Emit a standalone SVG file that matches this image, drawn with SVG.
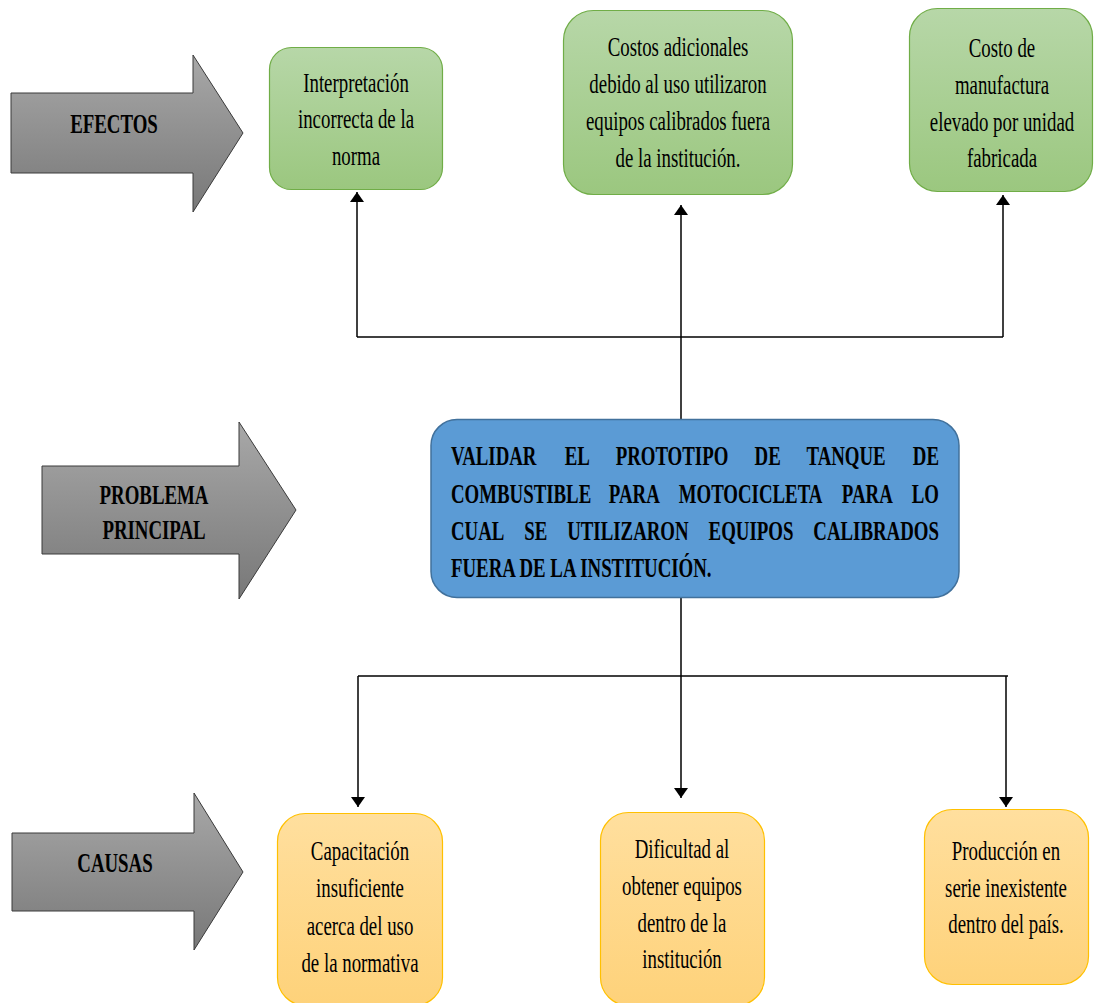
<svg xmlns="http://www.w3.org/2000/svg" width="1094" height="1003" viewBox="0 0 1094 1003">
<defs>
<linearGradient id="gGreen" x1="0" y1="0" x2="0" y2="1"><stop offset="0" stop-color="#b7d7a8"/><stop offset="1" stop-color="#9bc77f"/></linearGradient>
<linearGradient id="gOrange" x1="0" y1="0" x2="0" y2="1"><stop offset="0" stop-color="#ffdf9e"/><stop offset="1" stop-color="#fed27a"/></linearGradient>
<linearGradient id="gGray" x1="0" y1="0" x2="0" y2="1"><stop offset="0" stop-color="#a8a8a8"/><stop offset="1" stop-color="#787878"/></linearGradient>
<marker id="ah" viewBox="0 0 10 14" refX="10" refY="7" markerWidth="10" markerHeight="14" markerUnits="userSpaceOnUse" orient="auto"><path d="M0,0 L10,7 L0,14 Z" fill="#000"/></marker>
<style>
.arrowShape{fill:url(#gGray);stroke:#3a3a3a;stroke-width:1}
.green{fill:url(#gGreen);stroke:#70ad47;stroke-width:1.2}
.orange{fill:url(#gOrange);stroke:#ffc000;stroke-width:1.2}
.blue{fill:#5b9bd5;stroke:#41719c;stroke-width:1.5}
.t{font-family:"Liberation Serif","Times New Roman",serif;font-size:27px;fill:#000;text-anchor:middle}
.b{font-family:"Liberation Serif","Times New Roman",serif;font-size:27px;font-weight:bold;fill:#000}
.bc{text-anchor:middle}
.conn{fill:none;stroke:#000;stroke-width:1.5}
</style>
</defs>

<g id="label-efectos">
<polygon class="arrowShape" points="11,93 193,93 193,55 243,133 193,212 193,173 11,173"/>
<text class="b bc" transform="translate(114,0) scale(0.698,1)" x="0" y="133">EFECTOS</text>
</g>
<g id="label-problema">
<polygon class="arrowShape" points="42,466 239,466 239,422 296,510 239,599 239,554 42,554"/>
<text class="b bc" transform="translate(154,0) scale(0.698,1)"><tspan x="0" y="504">PROBLEMA</tspan><tspan x="0" y="539">PRINCIPAL</tspan></text>
</g>
<g id="label-causas">
<polygon class="arrowShape" points="12,833 194,833 194,793 243,872 194,950 194,911 12,911"/>
<text class="b bc" transform="translate(115,0) scale(0.698,1)" x="0" y="872">CAUSAS</text>
</g>

<g id="connectors">
<path class="conn" d="M357,337 H1003"/>
<path class="conn" d="M357,337 V192" marker-end="url(#ah)"/>
<path class="conn" d="M1003,337 V195" marker-end="url(#ah)"/>
<path class="conn" d="M681,419 V205" marker-end="url(#ah)"/>
<path class="conn" d="M681,597 V798" marker-end="url(#ah)"/>
<path class="conn" d="M358,676 H1008"/>
<path class="conn" d="M358,676 V807" marker-end="url(#ah)"/>
<path class="conn" d="M1006,676 V807" marker-end="url(#ah)"/>
</g>

<g id="effect-1">
<rect class="green" x="269.5" y="47.5" width="173" height="142" rx="22"/>
<text class="t" transform="translate(356,0) scale(0.698,1)"><tspan x="0" y="92">Interpretación</tspan><tspan x="0" y="128">incorrecta de la</tspan><tspan x="0" y="165">norma</tspan></text>
</g>
<g id="effect-2">
<rect class="green" x="563.5" y="10.5" width="229" height="184" rx="30"/>
<text class="t" transform="translate(678,0) scale(0.698,1)"><tspan x="0" y="56">Costos adicionales</tspan><tspan x="0" y="93">debido al uso utilizaron</tspan><tspan x="0" y="130">equipos calibrados fuera</tspan><tspan x="0" y="167">de la institución.</tspan></text>
</g>
<g id="effect-3">
<rect class="green" x="909.5" y="8.5" width="183" height="183" rx="28"/>
<text class="t" transform="translate(1002,0) scale(0.698,1)"><tspan x="0" y="57">Costo de</tspan><tspan x="0" y="94">manufactura</tspan><tspan x="0" y="131">elevado por unidad</tspan><tspan x="0" y="167">fabricada</tspan></text>
</g>

<g id="main-problem">
<rect class="blue" x="431" y="419.5" width="528" height="178" rx="26"/>
<text class="b" transform="scale(0.698,1)"><tspan x="646.1" y="465">VALIDAR</tspan><tspan x="809.1" y="465">EL</tspan><tspan x="882.0" y="465">PROTOTIPO</tspan><tspan x="1081.0" y="465">DE</tspan><tspan x="1155.4" y="465">TANQUE</tspan><tspan x="1307.8" y="465">DE</tspan><tspan x="646.1" y="503">COMBUSTIBLE</tspan><tspan x="872.3" y="503">PARA</tspan><tspan x="972.4" y="503">MOTOCICLETA</tspan><tspan x="1206.1" y="503">PARA</tspan><tspan x="1306.2" y="503">LO</tspan><tspan x="646.1" y="540">CUAL</tspan><tspan x="751.1" y="540">SE</tspan><tspan x="812.6" y="540">UTILIZARON</tspan><tspan x="1015.2" y="540">EQUIPOS</tspan><tspan x="1165.2" y="540">CALIBRADOS</tspan><tspan x="646.1" y="577">FUERA DE LA INSTITUCIÓN.</tspan></text>
</g>

<g id="cause-1">
<rect class="orange" x="277.5" y="813.5" width="165" height="192" rx="28"/>
<text class="t" transform="translate(360,0) scale(0.698,1)"><tspan x="0" y="860">Capacitación</tspan><tspan x="0" y="897">insuficiente</tspan><tspan x="0" y="935">acerca del uso</tspan><tspan x="0" y="972">de la normativa</tspan></text>
</g>
<g id="cause-2">
<rect class="orange" x="600.5" y="812.5" width="164" height="193" rx="28"/>
<text class="t" transform="translate(682,0) scale(0.698,1)"><tspan x="0" y="858">Dificultad al</tspan><tspan x="0" y="895">obtener equipos</tspan><tspan x="0" y="932">dentro de la</tspan><tspan x="0" y="968">institución</tspan></text>
</g>
<g id="cause-3">
<rect class="orange" x="924.5" y="809.5" width="164" height="175" rx="28"/>
<text class="t" transform="translate(1006,0) scale(0.698,1)"><tspan x="0" y="860">Producción en</tspan><tspan x="0" y="897">serie inexistente</tspan><tspan x="0" y="933">dentro del país.</tspan></text>
</g>
</svg>
